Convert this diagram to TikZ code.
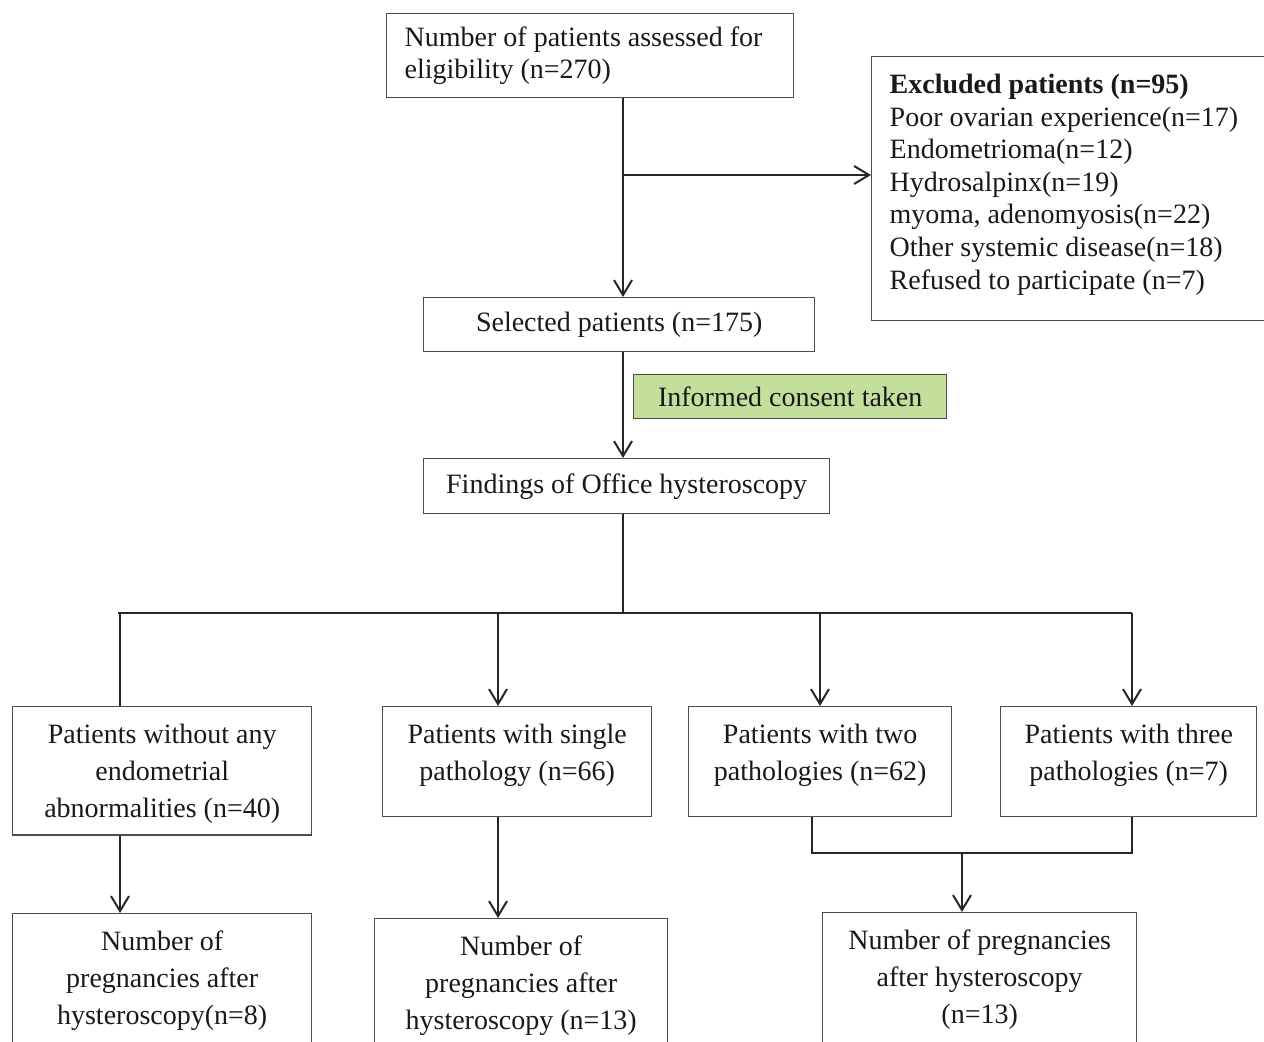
\documentclass[tikz,border=0pt]{standalone}
\usepackage{fontspec}
\setmainfont{Liberation Serif}
\usepackage{tikz}
\usetikzlibrary{arrows.meta,positioning}
\definecolor{consentgreen}{RGB}{196,223,155}
\tikzstyle{box}=[draw=black!70,line width=0.7pt,align=center,inner xsep=4pt,inner ysep=8.7pt,anchor=north west,text=black!90,font=\fontsize{14}{18.5}\selectfont]
\tikzstyle{single}=[minimum height=27pt,inner ysep=0pt]

\begin{document}
\begin{tikzpicture}[x=0.5pt,y=-0.5pt,>={Straight Barb[length=7.5pt,width=9pt]},line width=1pt,draw=black!85]
  \useasboundingbox (0,0) rectangle (1264,1042);

  \node[box,align=flush left,text width=185.5pt,inner xsep=9pt,minimum height=42pt,inner ysep=0pt,font=\fontsize{14}{16}\selectfont] (assess) at (386,13) {Number of patients assessed for\\eligibility (n=270)};
  \node[box,align=flush left,text width=180.5pt,inner xsep=9pt,text depth=104.8pt,font=\fontsize{14}{16.3}\selectfont] (excl) at (871,56) {\textbf{Excluded patients (n=95)}\\Poor ovarian experience(n=17)\\Endometrioma(n=12)\\Hydrosalpinx(n=19)\\myoma, adenomyosis(n=22)\\Other systemic disease(n=18)\\Refused to participate (n=7)};
  \node[box,single,minimum width=195.5pt] (sel) at (423,297) {Selected patients (n=175)};
  \node[box,single,fill=consentgreen,minimum width=156.5pt,minimum height=22pt] (consent) at (633,374) {Informed consent taken};
  \node[box,single,minimum width=203pt,minimum height=27.5pt] (find) at (423,458) {Findings of Office hysteroscopy};

  % groups
  \node[box,minimum width=149.5pt,text depth=-1.5pt] (none) at (12,706) {Patients without any\\endometrial\\abnormalities (n=40)};
  \node[box,minimum width=134.5pt,text depth=9.3pt] (one) at (382,706) {Patients with single\\pathology (n=66)};
  \node[box,minimum width=131.5pt,text depth=9.3pt] (two) at (688,706) {Patients with two\\pathologies (n=62)};
  \node[box,minimum width=128pt,text depth=9.3pt] (three) at (1000,706) {Patients with three\\pathologies (n=7)};

  % pregnancies
  \node[box,minimum width=149.5pt] (preg1) at (12,913) {Number of\\pregnancies after\\hysteroscopy(n=8)};
  \node[box,minimum width=146.5pt] (preg2) at (374,918) {Number of\\pregnancies after\\hysteroscopy (n=13)};
  \node[box,minimum width=157pt] (preg3) at (822,912) {Number of pregnancies\\after hysteroscopy\\(n=13)};

  \coordinate (trunk) at (623,0);
  \coordinate (split) at (623,175);
  \coordinate (bus) at (623,613);
  \coordinate (busL) at (118,613);
  \coordinate (busR) at (1132,613);
  \coordinate (join) at (962,853);

  \path[->] (assess.south -| trunk) edge (sel.north -| trunk)
            (split) edge (split -| excl.west)
            (sel.south -| trunk) edge (find.north -| trunk);
  \draw (find.south -| trunk) -- (bus);
  \draw (busL) -- (busR);
  \draw (busL -| 120,0) -- (none.north -| 120,0);
  \foreach \x/\n in {498/one,820/two,1132/three}
    \draw[->] (busL -| \x,0) -- (\n.north -| \x,0);
  \draw[->] (none.south -| 120,0) -- (preg1.north -| 120,0);
  \draw[->] (one.south -| 498,0) -- (preg2.north -| 498,0);
  \draw (two.south -| 812,0) |- (join) -| (three.south -| 1132,0);
  \draw[->] (join) -- (preg3.north -| join);
\end{tikzpicture}
\end{document}
